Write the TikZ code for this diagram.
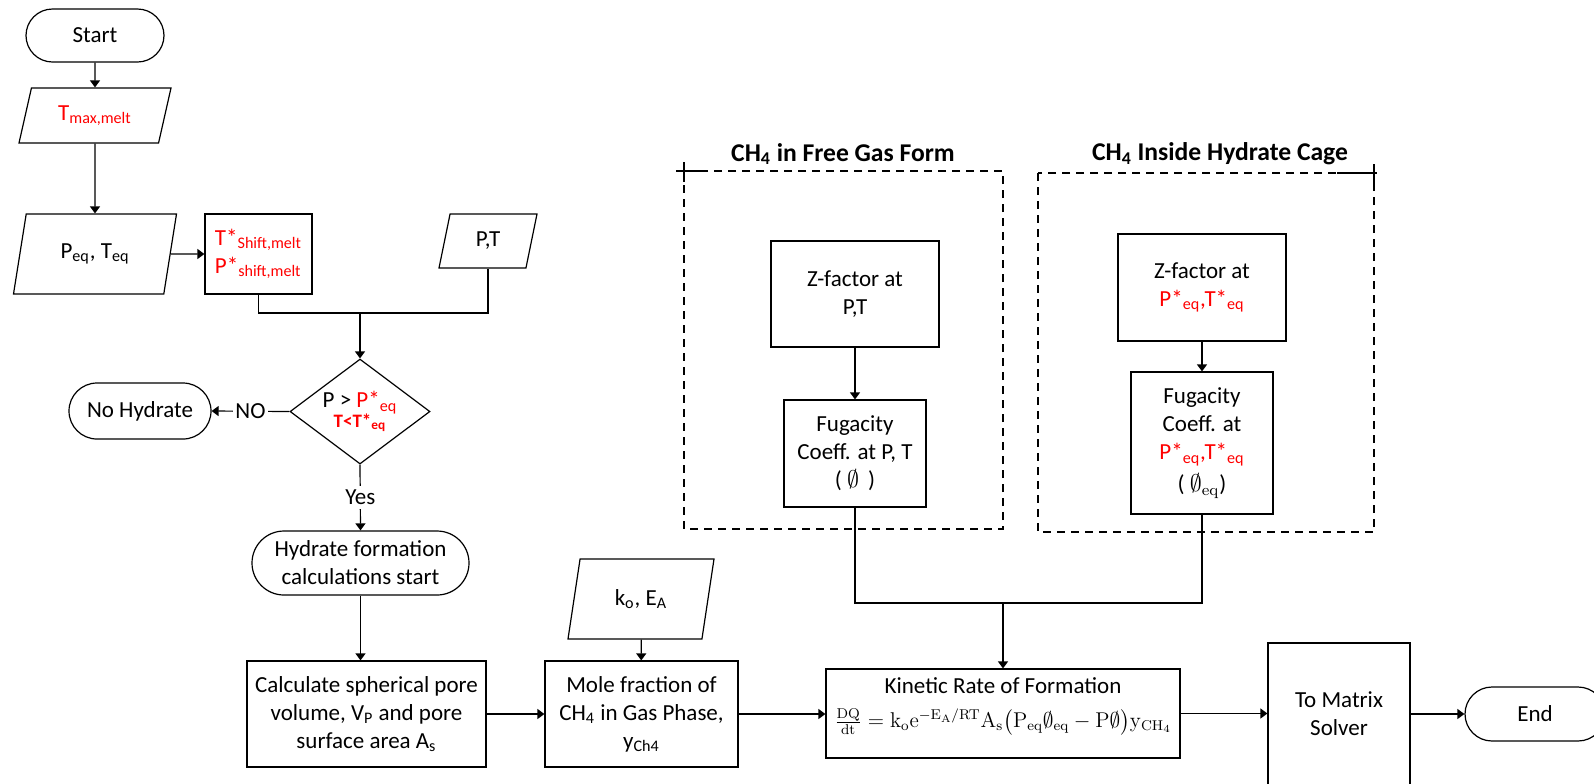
\documentclass[tikz,border=0pt]{standalone}
\usepackage{amsmath,amssymb}
\usepackage[no-math]{fontspec}
\setmainfont{Carlito}
\usepackage{xcolor}
\usepackage{graphicx}
\usepackage{tikz}
\usetikzlibrary{arrows.meta, shapes.geometric, shapes.misc, calc}

\begin{document}
\begin{tikzpicture}[
  x=0.5pt, y=-0.5pt,
  every node/.style={font=\fontsize{11.5}{14}\selectfont},
  term/.style={draw, rounded rectangle, line width=0.6pt, align=center, inner sep=1pt},
  proc/.style={draw, rectangle, line width=0.6pt, align=center, inner sep=1pt},
  io/.style={draw, trapezium, trapezium left angle=63, trapezium right angle=117, trapezium stretches body, line width=0.6pt, align=center, inner sep=1pt},
  dec/.style={draw, diamond, aspect=1.33, line width=0.6pt, align=center, inner sep=0pt},
  lane/.style={dash pattern=on 4pt off 3pt, line width=0.6pt},
  lanetitle/.style={font=\fontsize{12.8}{15}\selectfont\bfseries},
  arr/.style={-{Triangle[length=3.5pt,width=5pt]}, line width=0.6pt},
  conn/.style={line width=0.6pt},
]
  \useasboundingbox (0,0) rectangle (1594,783);

  % Input chain
  \node[term, minimum width=71pt, minimum height=26.5pt] (start) at (95,35.5) {Start};
  \node[io, minimum width=76pt, minimum height=27.5pt] (tmax) at (95,115.5) {\textcolor{red}{T\textsubscript{max,melt}}};
  \node[io, minimum width=81.5pt, minimum height=40pt] (peq) at (95,254) {P\textsubscript{eq}, T\textsubscript{eq}};
  \node[proc, minimum width=53.5pt, minimum height=40pt, align=left, text=red] (shift) at (258.5,254) {T*\textsubscript{Shift,melt}\\P*\textsubscript{shift,melt}};
  \node[io, minimum width=49pt, minimum height=27pt] (pt) at (488,241) {P,T};
  \coordinate (jn) at (360,313);

  % Decision
  \node[dec, minimum width=70pt, minimum height=52.5pt] (dec) at (360,411.5) {P > \textcolor{red}{P*\textsubscript{eq}}\\[-4pt]{\fontsize{9.5}{10}\selectfont\bfseries\color{red}T<T*\textsubscript{eq}}};
  \node[term, minimum width=73pt, minimum height=28pt] (nohyd) at (140,411) {No Hydrate};
  \node[term, minimum width=110.5pt, minimum height=32pt] (hfs) at (360.5,563) {Hydrate formation\\calculations start};

  % Bottom row
  \node[proc, minimum width=119.5pt, minimum height=53pt] (calc) at (366.5,714) {Calculate spherical pore\\volume, V\textsubscript{P} and pore\\surface area A\textsubscript{s}};
  \node[io, minimum width=73pt, minimum height=40pt] (ko) at (641,599) {k\textsubscript{o}, E\textsubscript{A}};
  \node[proc, minimum width=96.5pt, minimum height=53pt] (mole) at (641.5,714) {Mole fraction of\\CH\textsubscript{4} in Gas Phase,\\y\textsubscript{Ch4}};
  \node[proc, minimum width=177pt, minimum height=44.5pt, inner sep=0pt] (kin) at (1003,713.5) {Kinetic Rate of Formation\\[3pt]\scalebox{0.89}{\fontsize{12}{14}\selectfont$\frac{\mathrm{DQ}}{\mathrm{dt}}=\mathrm{k_o}\mathrm{e}^{-\mathrm{E_A}/\mathrm{RT}}\mathrm{A_s}\bigl(\mathrm{P_{eq}}\emptyset_{\mathrm{eq}}-\mathrm{P}\emptyset\bigr)\mathrm{y_{CH_4}}$}\\[-3pt]\phantom{K}};
  \node[proc, minimum width=71pt, minimum height=71pt] (mat) at (1339,714) {To Matrix\\Solver};
  \node[term, minimum width=72pt, minimum height=27pt] (endn) at (1535,714) {End};

  % Lanes
  \draw[lane] (684,171) rectangle (1003,529);
  \draw[lane] (1038,173) rectangle (1374,532);
  \draw[conn] (676,171) -- (703,171) (684,162) -- (684,182);
  \draw[conn] (1337,173) -- (1377,173) (1374,164) -- (1374,184);
  \node[lanetitle] (freettl) at (843,154) {CH\textsubscript{4} in Free Gas Form};
  \node[lanetitle] (cagettl) at (1220,154) {CH\textsubscript{4} Inside Hydrate Cage};
  \node[proc, minimum width=84pt, minimum height=53pt] (zf1) at (855,294) {Z-factor at\\P,T};
  \node[proc, minimum width=71pt, minimum height=53.5pt] (fug1) at (855,453.5) {Fugacity\\Coeff. at P, T\\( $\emptyset$ \,)};
  \node[proc, minimum width=84pt, minimum height=53.5pt] (zf2) at (1202,287.5) {Z-factor at\\\textcolor{red}{P*\textsubscript{eq},T*\textsubscript{eq}}};
  \node[proc, minimum width=71pt, minimum height=71pt] (fug2) at (1202,443) {Fugacity\\Coeff. at\\\textcolor{red}{P*\textsubscript{eq},T*\textsubscript{eq}}\\[2pt]( $\emptyset_{\mathrm{eq}}$)};
  \coordinate (kjn) at (1003,603);

  % Connectors
  \draw[arr] (start) -- (tmax);
  \draw[arr] (tmax) -- (peq);
  \draw[arr] (peq) -- (shift);
  \draw[conn] (shift.south) |- (jn) -| (pt.south);
  \draw[arr] (jn) -- (dec.north);
  \draw[arr] (dec.west) -- node[fill=white, inner sep=1pt] (no) {NO} (nohyd.east);
  \draw[arr] (dec.south) -- node[fill=white, inner sep=2pt] (yes) {Yes} (hfs.north);
  \draw[arr] (hfs.south) -- (hfs.south |- calc.north);
  \draw[arr] (calc) -- (mole);
  \draw[arr] (ko) -- (mole);
  \draw[arr] (mole.east) -- (mole.east -| kin.west);
  \draw[arr] (zf1) -- (fug1);
  \draw[arr] (zf2) -- (fug2);
  \draw[conn] (fug1.south) |- (kjn) -| (fug2.south);
  \draw[arr] (kjn) -- (kin.north);
  \draw[arr] (kin.east) -- (kin.east -| mat.west);
  \draw[arr] (mat) -- (endn);
\end{tikzpicture}
\end{document}
